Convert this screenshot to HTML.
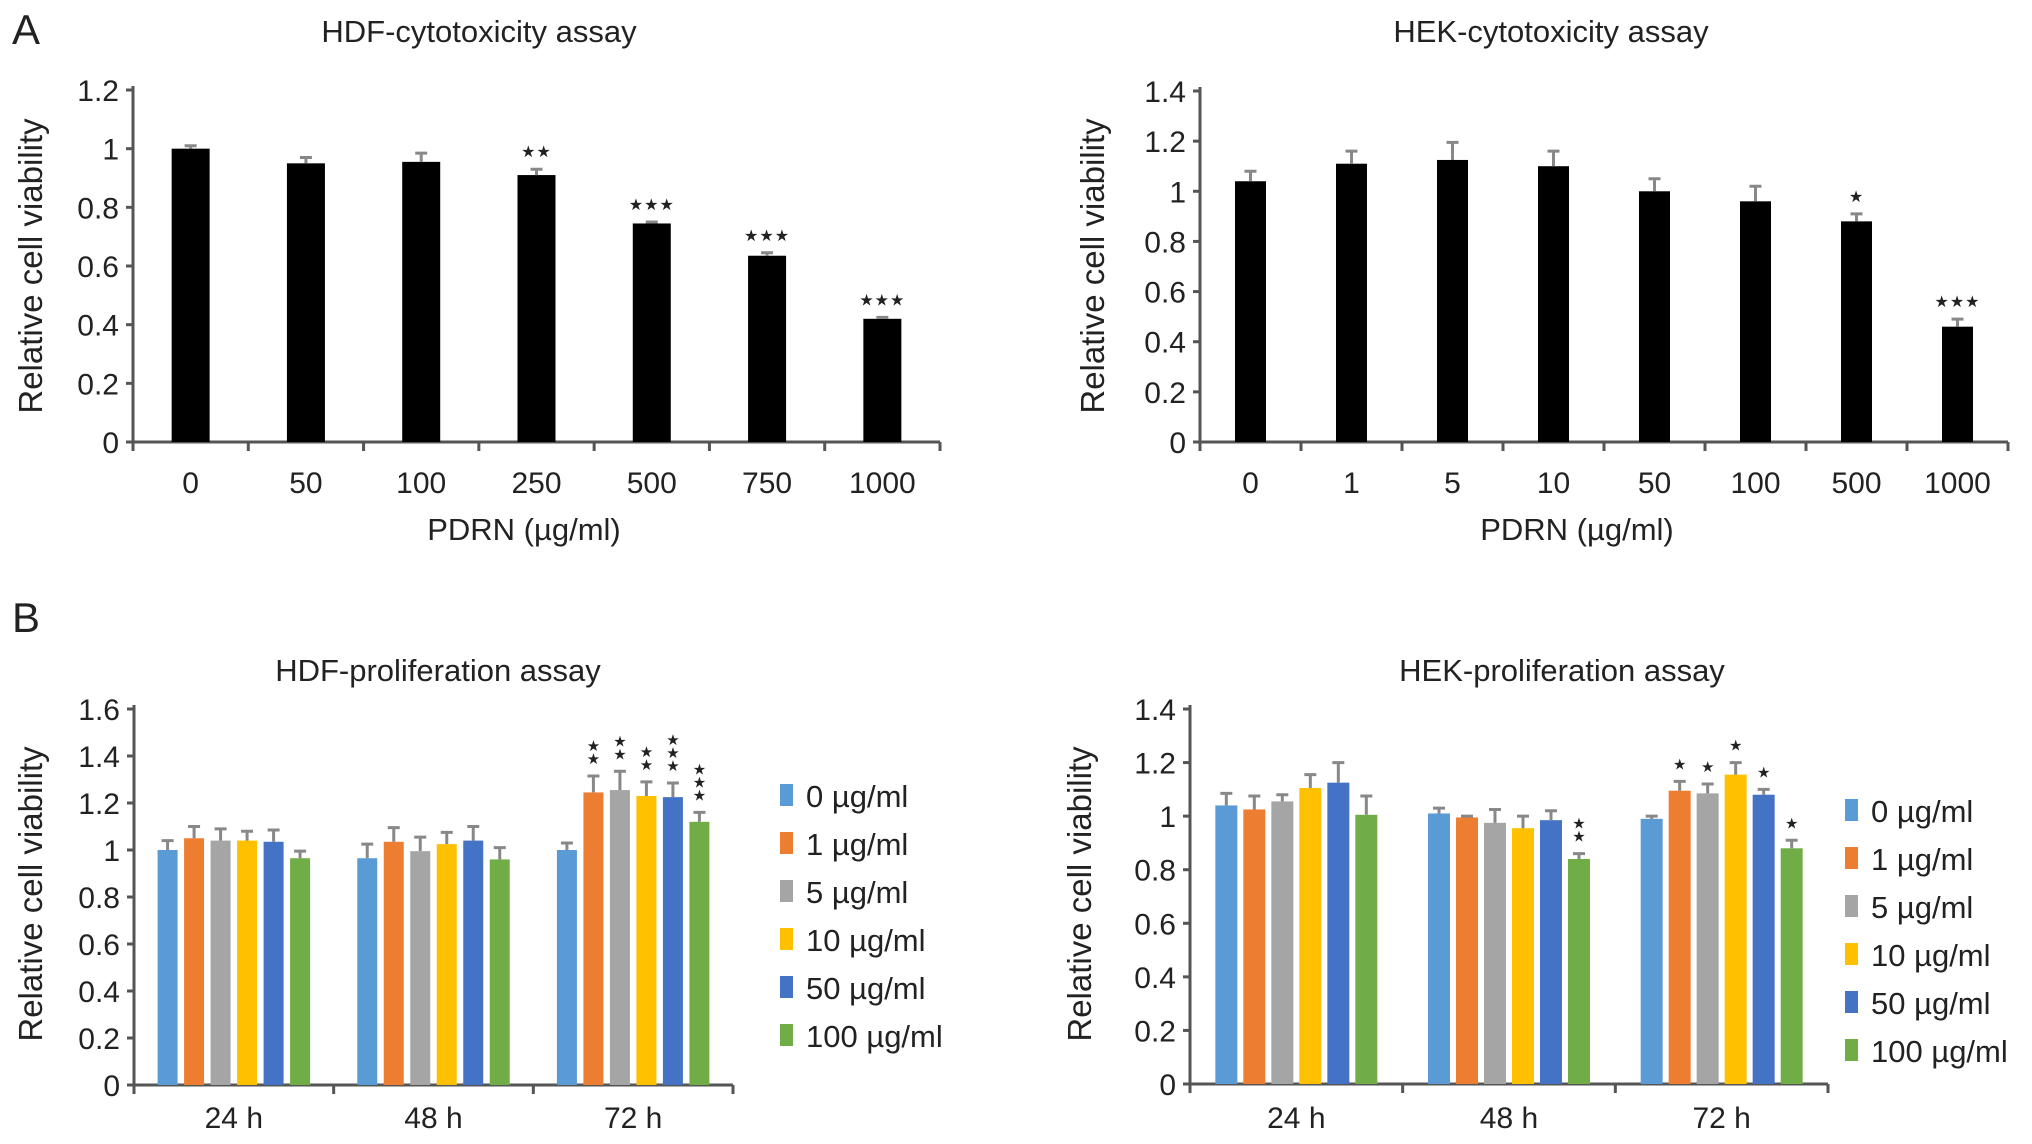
<!DOCTYPE html>
<html><head><meta charset="utf-8"><style>
body{margin:0;background:#fff;}
svg{display:block;font-family:"Liberation Sans",Arial,sans-serif;}
text{fill:#222;}
</style></head><body>
<svg id="fig" width="2032" height="1144" viewBox="0 0 2032 1144" xmlns="http://www.w3.org/2000/svg">
<text x="12" y="44" font-size="42">A</text>
<text x="12" y="632" font-size="42">B</text>
</svg>
<script>
const hdfCytoCats = ["0","50","100","250","500","750","1000"];
const hdfCytoVals = [1.0,0.95,0.955,0.91,0.745,0.635,0.42];
const hdfCytoErr = [0.01,0.02,0.03,0.02,0.005,0.01,0.005];
const hdfCytoSig = ["","","","**","***","***","***"];
const hdfCytoTicks = ["0","0.2","0.4","0.6","0.8","1","1.2"];

const hekCytoCats = ["0","1","5","10","50","100","500","1000"];
const hekCytoVals = [1.04,1.11,1.125,1.1,1.0,0.96,0.88,0.46];
const hekCytoErr = [0.04,0.05,0.07,0.06,0.05,0.06,0.03,0.03];
const hekCytoSig = ["","","","","","","*","***"];
const hekCytoTicks = ["0","0.2","0.4","0.6","0.8","1","1.2","1.4"];

const timeCats = ["24 h","48 h","72 h"];
const seriesNames = ["0 µg/ml","1 µg/ml","5 µg/ml","10 µg/ml","50 µg/ml","100 µg/ml"];
const seriesColors = ["#5b9bd5","#ed7d31","#a5a5a5","#ffc000","#4472c4","#70ad47"];

const hdfProVals = [[1.0,0.965,1.0],[1.05,1.035,1.245],[1.04,0.995,1.255],[1.04,1.025,1.23],[1.035,1.04,1.225],[0.965,0.96,1.12]];
const hdfProErr = [[0.04,0.06,0.03],[0.05,0.06,0.07],[0.05,0.06,0.08],[0.04,0.05,0.06],[0.05,0.06,0.06],[0.03,0.05,0.04]];
const hdfProSig = [[0,0,0],[0,0,2],[0,0,2],[0,0,2],[0,0,3],[0,0,3]];
const hdfProTicks = ["0","0.2","0.4","0.6","0.8","1","1.2","1.4","1.6"];

const hekProVals = [[1.04,1.01,0.99],[1.025,0.995,1.095],[1.055,0.975,1.085],[1.105,0.955,1.155],[1.125,0.985,1.08],[1.005,0.84,0.88]];
const hekProErr = [[0.045,0.02,0.01],[0.05,0.005,0.035],[0.025,0.05,0.035],[0.05,0.045,0.045],[0.075,0.035,0.02],[0.07,0.02,0.03]];
const hekProSig = [[0,0,0],[0,0,1],[0,0,1],[0,0,1],[0,0,1],[0,2,1]];
const hekProTicks = ["0","0.2","0.4","0.6","0.8","1","1.2","1.4"];

const svg = document.getElementById('fig');
const NS = "http://www.w3.org/2000/svg";
function el(tag, attrs, parent){
  const e = document.createElementNS(NS, tag);
  for (const k in attrs) e.setAttribute(k, attrs[k]);
  (parent||svg).appendChild(e);
  return e;
}
function txt(x,y,s,size,anchor,parent){
  const t = el('text',{x:x,y:y,'font-size':size,'text-anchor':anchor||'middle'},parent);
  t.textContent = s;
  return t;
}

function axes(g, cfg){
  const ymax = parseFloat(cfg.ticks[cfg.ticks.length-1]);
  const yS = v => cfg.y0 - v/ymax*(cfg.y0-cfg.yTop);
  const ax = el('path',{d:`M${cfg.x0} ${cfg.yTop-4}V${cfg.y0}H${cfg.x1}`,stroke:'#555','stroke-width':3,fill:'none'},g);
  
  
  cfg.ticks.forEach(t=>{
    const y = yS(parseFloat(t));
    el('line',{x1:cfg.x0-7,x2:cfg.x0,y1:y,y2:y,stroke:'#555','stroke-width':3},g);
    const lbl = txt(cfg.x0-14,y+11,t,30,'end',g);
    
    
  });
  const n = cfg.cats.length, w = (cfg.x1-cfg.x0)/n;
  for(let i=0;i<=n;i++){
    el('line',{x1:cfg.x0+i*w,x2:cfg.x0+i*w,y1:cfg.y0,y2:cfg.y0+9,stroke:'#555','stroke-width':3},g);
  }
  cfg.cats.forEach((c,i)=>{
    const l = txt(cfg.x0+(i+0.5)*w,cfg.labY,c,30,'middle',g);
    
    
  });
  const tt = txt(cfg.titleX,cfg.titleY,cfg.title,31,'middle',g);
  
  
  const yl = txt(0,0,'Relative cell viability',33,'middle',g);
  yl.setAttribute('transform',`translate(${cfg.ylX},${cfg.ylY}) rotate(-90)`);
  
  
  if(cfg.xTitle){
    const xt = txt(cfg.xtX,cfg.xtY,cfg.xTitle,31,'middle',g);
    
    
  }
  return {yS:yS,w:w};
}

function errBar(g,cx,yTop,yVal,cap){
  el('path',{d:`M${cx} ${yVal}V${yTop}M${cx-cap} ${yTop}H${cx+cap}`,stroke:'#888','stroke-width':3,fill:'none'},g);
}

function simpleChart(name,cfg,vals,errs,sig){
  const g = el('g',{});
  
  
  const {yS,w} = axes(g,cfg);
  vals.forEach((v,i)=>{
    const cx = cfg.x0+(i+0.5)*w;
    const r = el('rect',{x:cx-cfg.bw/2,y:yS(v),width:cfg.bw,height:cfg.y0-yS(v),fill:'#000'},g);
    
    
    const yt = yS(v+errs[i]);
    errBar(g,cx,yt,yS(v),6);
    if(sig[i]){
      const s = txt(cx,yt-12,sig[i].replace(/\*/g,'★'),16,'middle',g);
      s.setAttribute('letter-spacing','1');
      
      
    }
  });
}

function groupChart(name,cfg,vals,errs,sig){
  const g = el('g',{});
  
  
  const {yS,w} = axes(g,cfg);
  const ns = vals.length;
  cfg.cats.forEach((c,j)=>{
    const gc = cfg.x0+(j+0.5)*w;
    for(let s=0;s<ns;s++){
      const cx = gc+(s-(ns-1)/2)*cfg.step;
      const v = vals[s][j];
      const r = el('rect',{x:cx-cfg.bw/2,y:yS(v),width:cfg.bw,height:cfg.y0-yS(v),fill:seriesColors[s]},g);
      
      
      const yt = yS(v+errs[s][j]);
      errBar(g,cx,yt,yS(v),6);
      for(let k=0;k<sig[s][j];k++){
        const st = txt(cx,yt-12-k*13,'★',15,'middle',g);
        
        
      }
    }
  });
  seriesNames.forEach((nm,s)=>{
    const y = cfg.legY + s*cfg.legStep;
    const sw = el('rect',{x:cfg.legX,y:y-12,width:13,height:22,fill:seriesColors[s]},g);
    
    
    const lt = txt(cfg.legX+26,y+11,nm,31,'start',g);
    
    
  });
}

simpleChart('hdf-cytotoxicity-chart',{x0:133,x1:940,y0:442,yTop:90,ticks:hdfCytoTicks,cats:hdfCytoCats,bw:38,labY:493,title:'HDF-cytotoxicity assay',titleX:479,titleY:42,ylX:42,ylY:266,xTitle:'PDRN (µg/ml)',xtX:524,xtY:540},hdfCytoVals,hdfCytoErr,hdfCytoSig);
simpleChart('hek-cytotoxicity-chart',{x0:1200,x1:2008,y0:442,yTop:91,ticks:hekCytoTicks,cats:hekCytoCats,bw:31,labY:493,title:'HEK-cytotoxicity assay',titleX:1551,titleY:42,ylX:1104,ylY:266,xTitle:'PDRN (µg/ml)',xtX:1577,xtY:540},hekCytoVals,hekCytoErr,hekCytoSig);
groupChart('hdf-proliferation-chart',{x0:134,x1:733,y0:1085,yTop:709,ticks:hdfProTicks,cats:timeCats,bw:20,step:26.5,labY:1128,title:'HDF-proliferation assay',titleX:438,titleY:681,ylX:42,ylY:894,legX:780,legY:796,legStep:48},hdfProVals,hdfProErr,hdfProSig);
groupChart('hek-proliferation-chart',{x0:1190,x1:1828,y0:1084,yTop:709,ticks:hekProTicks,cats:timeCats,bw:22,step:28,labY:1128,title:'HEK-proliferation assay',titleX:1562,titleY:681,ylX:1091,ylY:894,legX:1845,legY:811,legStep:48},hekProVals,hekProErr,hekProSig);
</script>
</body></html>
